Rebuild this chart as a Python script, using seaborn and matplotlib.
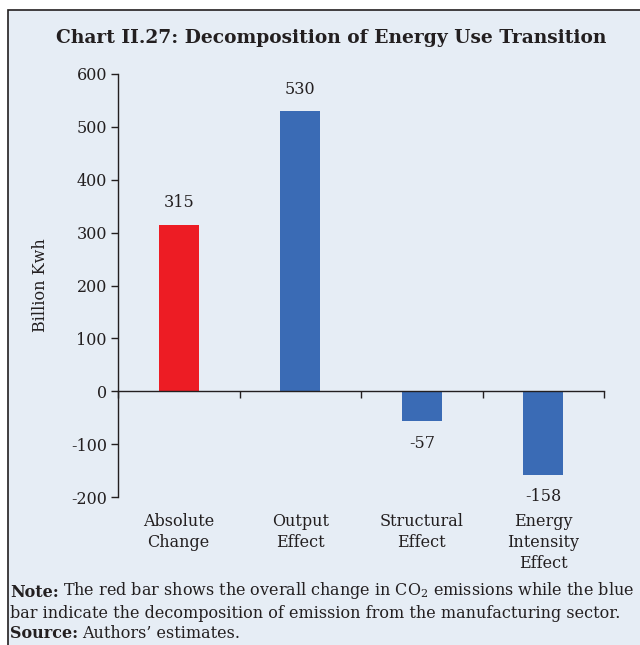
import matplotlib
matplotlib.use('Agg')
import matplotlib.pyplot as plt
import matplotlib.transforms as mtransforms
from matplotlib.patches import Rectangle
import seaborn as sns

# Data
categories = ['Absolute\nChange', 'Output\nEffect', 'Structural\nEffect', 'Energy\nIntensity\nEffect']
values = [315, 530, -57, -158]
bar_colors = ['#ED1C24', '#3A6BB5', '#3A6BB5', '#3A6BB5']
y_ticks = [-200, -100, 0, 100, 200, 300, 400, 500, 600]

sns.set_theme(style='white')
plt.rcParams['font.family'] = ['DejaVu Serif']
plt.rcParams['mathtext.fontset'] = 'dejavuserif'
bg = '#E6EDF5'
ink = '#231F20'

fig = plt.figure(figsize=(6.4, 6.45), dpi=100)
fig.patch.set_facecolor('white')

# framed panel
frame = Rectangle((8 / 640, -0.02), 1.1, (645 - 10) / 645 + 0.02, transform=fig.transFigure,
                  facecolor=bg, edgecolor=ink, linewidth=1.2, zorder=-5)
fig.patches.append(frame)

ax = fig.add_axes([118 / 640, 1 - 497 / 645, (604 - 118) / 640, (497 - 74) / 645])
ax.set_facecolor('none')

sns.barplot(x=list(range(len(values))), y=values, hue=list(range(len(values))),
            palette=bar_colors, legend=False, width=0.33, saturation=1,
            linewidth=0, ax=ax)

ax.set_ylim(-200, 600)
ax.set_xlim(-0.5, len(values) - 0.5)
ax.set_yticks(y_ticks)
ax.set_yticklabels([str(t) for t in y_ticks], fontsize=11.5, color=ink)
ax.set_ylabel('Billion Kwh', fontsize=11.5, color=ink, labelpad=16)

# category boundaries as ticks on the zero line
ax.spines['bottom'].set_position(('data', 0))
ax.spines['top'].set_visible(False)
ax.spines['right'].set_visible(False)
for s in ['left', 'bottom']:
    ax.spines[s].set_color(ink)
    ax.spines[s].set_linewidth(1.0)
ax.set_xticks([i - 0.5 for i in range(len(values) + 1)])
ax.set_xticklabels([])
ax.tick_params(axis='x', direction='out', length=5, color=ink, width=1.0, bottom=True)
ax.tick_params(axis='y', direction='out', length=5, color=ink, width=1.0, pad=3, left=True)

# category labels below the plot area
trans = mtransforms.blended_transform_factory(ax.transData, ax.transAxes)
for i, lab in enumerate(categories):
    ax.text(i, -0.037, lab, transform=trans, ha='center', va='top',
            fontsize=11.5, color=ink, linespacing=1.32)

# value labels
for i, v in enumerate(values):
    if v >= 0:
        ax.text(i, v + 25, f'{v}', ha='center', va='bottom', fontsize=11.5, color=ink)
    else:
        ax.text(i, v - 25, f'{v}', ha='center', va='top', fontsize=11.5, color=ink)

fig.text(331 / 640, 1 - 38 / 645, 'Chart II.27: Decomposition of Energy Use Transition',
         ha='center', va='center', fontsize=13.4, fontweight='bold', color=ink)


def note_line(y, head, body):
    t = fig.text(10 / 640, 1 - y / 645, head, ha='left', va='baseline',
                 fontsize=11.5, fontweight='bold', color=ink)
    ax.annotate(body, xy=(1, 0), xycoords=t, xytext=(3, 0), textcoords='offset points',
                ha='left', va='bottom', fontsize=11.5, color=ink, annotation_clip=False)


note_line(597, 'Note:', 'The red bar shows the overall change in CO$_2$ emissions while the blue')
fig.text(10 / 640, 1 - 618 / 645,
         'bar indicate the decomposition of emission from the manufacturing sector.',
         ha='left', va='baseline', fontsize=11.5, color=ink)
note_line(638, 'Source:', 'Authors’ estimates.')

fig.savefig('out.png', dpi=100, facecolor=fig.get_facecolor())
